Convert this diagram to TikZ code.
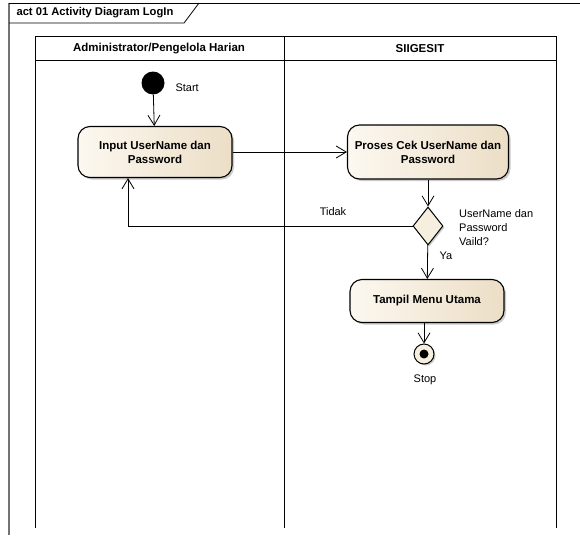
\documentclass[tikz,border=0pt]{standalone}
\usepackage{fontspec}
\setmainfont{Liberation Sans}
\usetikzlibrary{arrows.meta, shapes.geometric, shadows}
\definecolor{actlight}{RGB}{252,248,240}
\definecolor{actdark}{RGB}{236,222,198}
\tikzset{every node/.append style = {font=\fontsize{11}{14}\selectfont}}
\tikzset{activity/.style = {draw, line width=1.1pt, rounded corners=12pt, left color=actlight, right color=actdark, align=center, font=\fontsize{11.5}{14}\selectfont\bfseries, drop shadow={shadow xshift=2pt, shadow yshift=-2pt, fill=black!35, opacity=.6}}}
\tikzset{flow/.style = {-{Straight Barb[length=10pt, width=12pt]}, line width=.8pt}}

\begin{document}
\begin{tikzpicture}[x=1pt, y=-1pt]
\useasboundingbox (0,0) rectangle (580,535);
\draw[black!55, line width=1.3pt] (9,535) -- (9,3);
\draw[line width=.8pt] (9,3) -- (580,3);
\draw[line width=.8pt] (9,23) -- (184,23) -- (199,3);
\node[anchor=west, font=\fontsize{11.2}{12}\selectfont\bfseries] (title) at (13,13) {act 01 Activity Diagram LogIn};
\draw[line width=1pt] (35,528) -- (35,37) -- (556,37) -- (556,528);
\draw[line width=1pt] (35,60) -- (556,60);
\draw[line width=1pt] (284,37) -- (284,528);
\node[font=\fontsize{11.5}{12}\selectfont\bfseries] (laneA) at (159,49) {Administrator/Pengelola Harian};
\node[font=\fontsize{11.5}{12}\selectfont\bfseries] (laneB) at (420,49) {SIIGESIT};
\node[circle, fill=black, minimum size=23pt, inner sep=0] (start) at (153,83) {};
\node[anchor=west] (lstart) at (172,88) {Start};
\node[activity, minimum width=154pt, minimum height=51pt] (input) at (155,152) {Input UserName dan\\Password};
\node[activity, minimum width=161pt, minimum height=54pt] (proses) at (428,152) {Proses Cek UserName dan\\Password};
\node[diamond, draw, line width=1pt, fill=actlight!60!actdark, minimum width=30pt, minimum height=38pt, inner sep=0, drop shadow={shadow xshift=1.5pt, shadow yshift=-1.5pt, fill=black!35, opacity=.6}] (dec) at (428,226) {};
\node[activity, minimum width=154pt, minimum height=43pt] (tampil) at (427,301) {Tampil Menu Utama};
\node[circle, draw, line width=1pt, fill=actlight!60!actdark, minimum size=20pt, inner sep=0, drop shadow={shadow xshift=1.5pt, shadow yshift=-1.5pt, fill=black!35, opacity=.6}] (stop) at (424,354) {};
\fill (stop.center) circle (4.5pt);
\node (lstop) at (425,380) {Stop};
\node (ltidak) at (333,212) {Tidak};
\node (lya) at (446,256) {Ya};
\node[anchor=north west, align=left, inner sep=0] (lcek) at (459,209) {UserName dan\\Password\\Vaild?};
\draw[flow] (start) -- (input);
\draw[flow] (input) -- (proses);
\draw[flow] (proses) -- (dec);
\draw[flow] (dec) -- (tampil);
\draw[flow] (tampil.south -| stop) -- (stop);
\draw[flow] (dec.west) -| ([xshift=-27pt]input.south);
\end{tikzpicture}
\end{document}
